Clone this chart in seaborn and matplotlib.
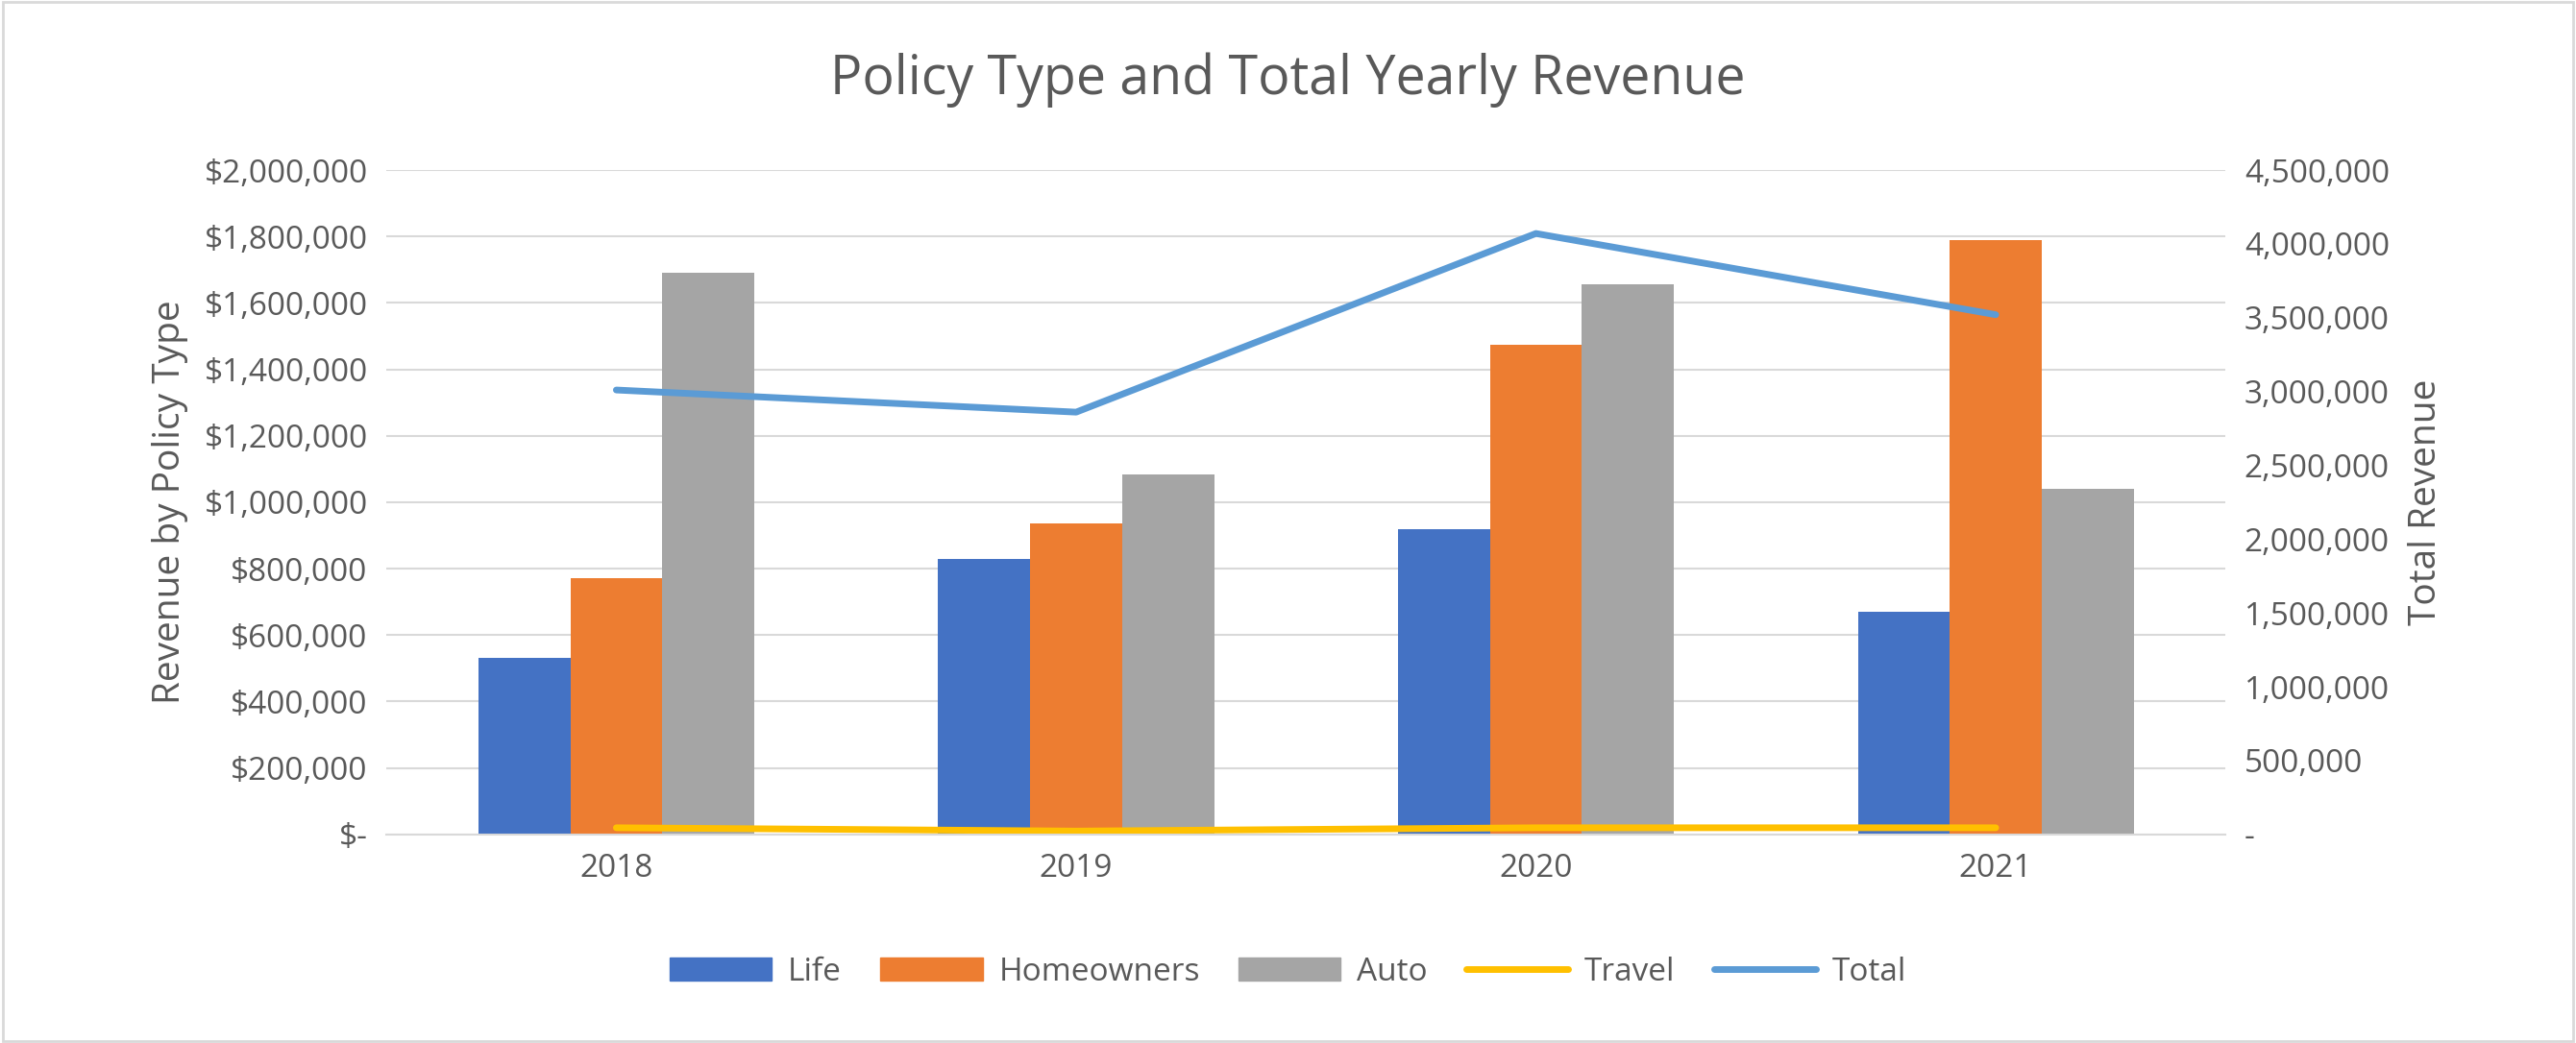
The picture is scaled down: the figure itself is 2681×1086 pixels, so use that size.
import numpy as np
import pandas as pd
import matplotlib
matplotlib.use("Agg")
import matplotlib.pyplot as plt
import seaborn as sns
from matplotlib.ticker import FuncFormatter
from matplotlib.lines import Line2D
from matplotlib.patches import Patch, Rectangle

# chart values
years = ["2018", "2019", "2020", "2021"]
life = [530000, 830000, 920000, 670000]
homeowners = [770000, 935000, 1475000, 1790000]
auto = [1690000, 1085000, 1655000, 1040000]
travel = [20000, 10000, 20000, 20000]
total = [3010000, 2860000, 4070000, 3520000]

policy_names = ["Life", "Homeowners", "Auto"]
colors = {"Life": "#4472C4", "Homeowners": "#ED7D31", "Auto": "#A5A5A5"}
travel_color = "#FFC000"
total_color = "#5B9BD5"
text_color = "#595959"

sns.set_style("white")
plt.rcParams["font.family"] = ["Open Sans", "DejaVu Sans"]

df = pd.DataFrame({
    "Year": years * 3,
    "Policy": sum([[p] * 4 for p in policy_names], []),
    "Revenue": life + homeowners + auto,
})

fig = plt.figure(figsize=(26.81, 10.86), dpi=100)
ax = fig.add_axes([0.15, 0.2, 0.714, 0.637])

sns.barplot(data=df, x="Year", y="Revenue", hue="Policy", hue_order=policy_names,
            palette=colors, width=0.6, ax=ax, legend=False, saturation=1, linewidth=0)
xs = np.arange(len(years))
sns.lineplot(x=xs, y=travel, color=travel_color, linewidth=5, ax=ax, legend=False)

ax.set_ylim(0, 2000000)
ax.set_yticks(np.arange(0, 2000001, 200000))
ax.yaxis.set_major_formatter(FuncFormatter(lambda v, p: "$-" if v == 0 else f"${v:,.0f}"))
ax.grid(axis="y", color="#D9D9D9", linewidth=1.5)
ax.set_axisbelow(True)
ax.set_xlim(-0.5, 3.5)
for s in ["top", "right", "left"]:
    ax.spines[s].set_visible(False)
ax.spines["bottom"].set_color("#D9D9D9")
ax.spines["bottom"].set_linewidth(1.5)
ax.tick_params(axis="both", labelsize=24, colors=text_color, length=0, pad=14)
ax.set_xlabel("")
ax.set_ylabel("Revenue by Policy Type", fontsize=28, color=text_color, labelpad=12)

ax2 = ax.twinx()
sns.lineplot(x=xs, y=total, color=total_color, linewidth=5, ax=ax2, legend=False)
ax2.set_ylim(0, 4500000)
ax2.set_yticks(np.arange(0, 4500001, 500000))
ax2.yaxis.set_major_formatter(FuncFormatter(lambda v, p: "-" if v == 0 else f"{v:,.0f}"))
for s in ax2.spines.values():
    s.set_visible(False)
ax2.tick_params(axis="y", labelsize=24, colors=text_color, length=0, pad=14)
ax2.set_ylabel("Total Revenue", fontsize=28, color=text_color, labelpad=14)
ax2.set_xlim(-0.5, 3.5)

fig.suptitle("Policy Type and Total Yearly Revenue", fontsize=40, color=text_color, y=0.95)

handles = [Patch(color=colors[p]) for p in policy_names] + [
    Line2D([0], [0], color=travel_color, lw=5),
    Line2D([0], [0], color=total_color, lw=5),
]
fig.legend(handles, policy_names + ["Travel", "Total"], loc="center", bbox_to_anchor=(0.5, 0.068),
           ncol=5, frameon=False, fontsize=24, labelcolor=text_color, handlelength=3.2,
           columnspacing=1.2, handletextpad=0.5)

fig.add_artist(Rectangle((0.001, 0.002), 0.998, 0.996, transform=fig.transFigure,
                         fill=False, edgecolor="#D9D9D9", linewidth=2))

fig.savefig("out.png", dpi=100)
